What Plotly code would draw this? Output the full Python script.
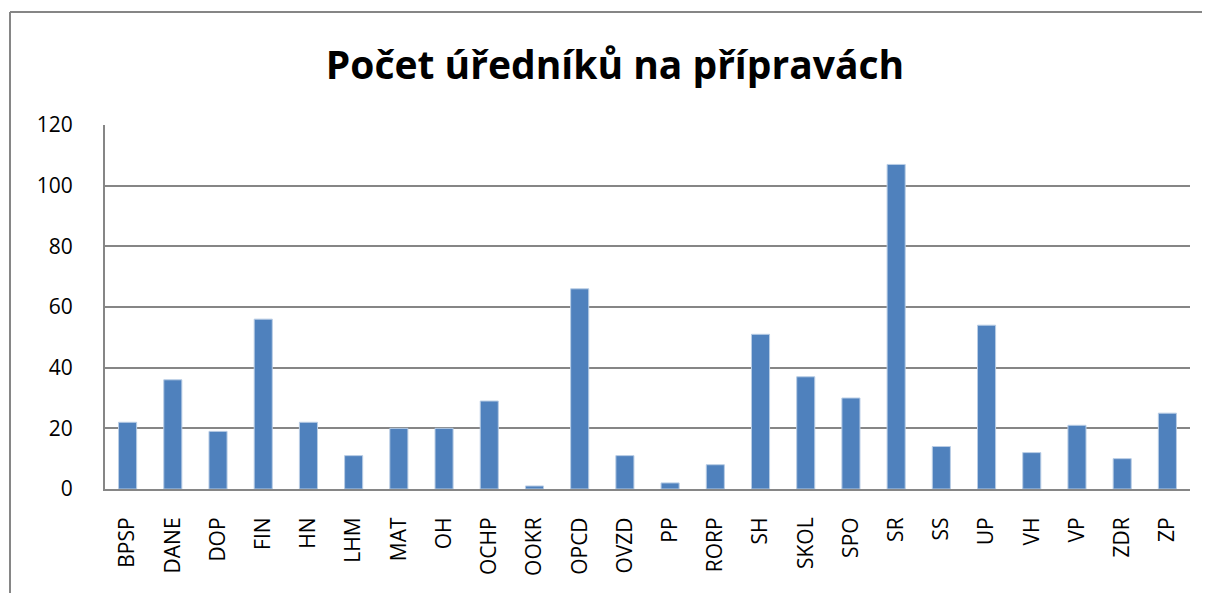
import plotly.graph_objects as go

categories = ["BPSP", "DANE", "DOP", "FIN", "HN", "LHM", "MAT", "OH", "OCHP", "OOKR",
              "OPCD", "OVZD", "PP", "RORP", "SH", "SKOL", "SPO", "SR", "SS", "UP",
              "VH", "VP", "ZDR", "ZP"]
values = [22, 36, 19, 56, 22, 11, 20, 20, 29, 1,
          66, 11, 2, 8, 51, 37, 30, 107, 14, 54,
          12, 21, 10, 25]
y_ticks = [0, 20, 40, 60, 80, 100, 120]
title_text = "Počet úředníků na přípravách"

# page has an 8px body margin; figure origin is at (8, 8)
OFF = 8
W, H = 1210 - 2 * OFF, 601 - 2 * OFF
ml, mt = 105 - OFF, 125 - OFF
mr = (OFF + W) - 1190
mb = (OFF + H) - 489
pw = W - ml - mr
ph = H - mt - mb

fig = go.Figure(go.Bar(
    x=categories, y=values,
    marker=dict(color="#4F81BD", line=dict(color="#B9CDE5", width=1)),
    width=0.4,
))

font_family = "Open Sans, Liberation Sans, sans-serif"

bx = 10 - OFF   # border x in figure px
by = 12 - OFF   # border y in figure px

fig.update_layout(
    width=W, height=H,
    margin=dict(l=ml, r=mr, t=mt, b=mb),
    paper_bgcolor="white", plot_bgcolor="white",
    showlegend=False,
    title=dict(text="<b>" + title_text + "</b>", x=(615 - OFF) / W, xanchor="center",
               y=1 - (65 - OFF) / H, yanchor="middle",
               font=dict(family=font_family, size=39, color="black")),
    xaxis=dict(type="category", tickangle=-90, showgrid=False,
               showline=True, linecolor="#868686", linewidth=2,
               ticks="", ticklabelstandoff=18,
               tickfont=dict(family=font_family, size=21, color="black")),
    yaxis=dict(range=[0, 120], tickvals=y_ticks, showgrid=True,
               gridcolor="#868686", gridwidth=1.5,
               showline=True, linecolor="#868686", linewidth=2,
               ticks="", ticklabelstandoff=26, zeroline=False,
               tickfont=dict(family=font_family, size=21, color="black")),
    shapes=[
        dict(type="line", xref="paper", yref="paper",
             x0=(bx - ml) / pw, x1=(W - ml) / pw,
             y0=(H - mb - by) / ph, y1=(H - mb - by) / ph,
             line=dict(color="#868686", width=2)),
        dict(type="line", xref="paper", yref="paper",
             x0=(bx - ml) / pw, x1=(bx - ml) / pw,
             y0=(H - mb - by) / ph, y1=(-mb) / ph,
             line=dict(color="#868686", width=2)),
    ],
)

fig.write_html("out.html")
